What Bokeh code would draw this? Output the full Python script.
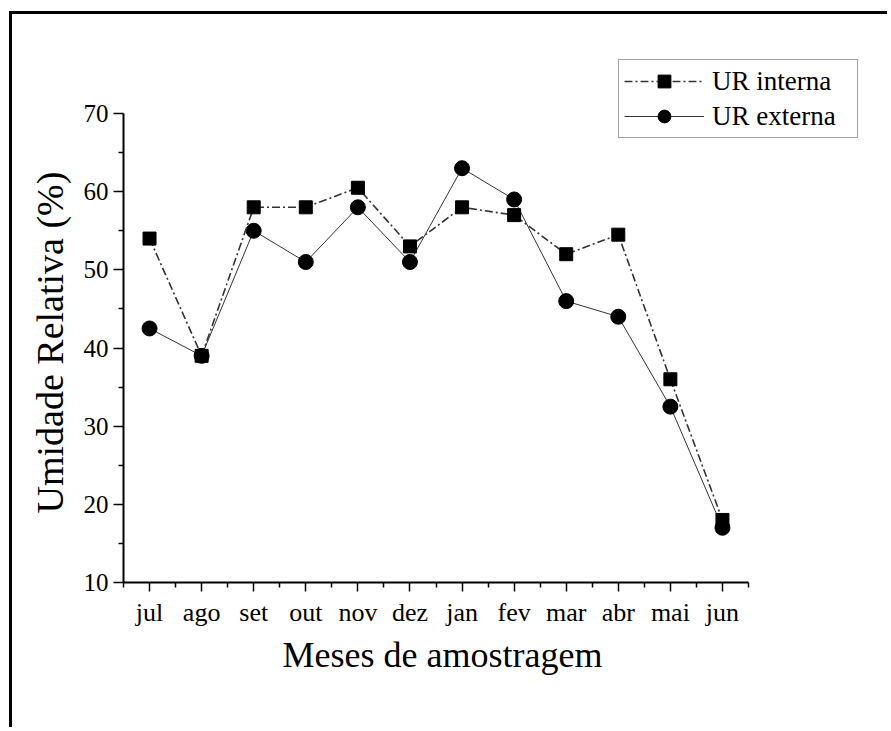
from bokeh.plotting import figure
from bokeh.models import FixedTicker, Legend, LegendItem, Title
from bokeh.embed import file_html
from bokeh.resources import INLINE

months = ["jul", "ago", "set", "out", "nov", "dez", "jan", "fev", "mar", "abr", "mai", "jun"]
ur_interna = [54, 39, 58, 58, 60.5, 53, 58, 57, 52, 54.5, 36, 18]
ur_externa = [42.5, 39, 55, 51, 58, 51, 63, 59, 46, 44, 32.5, 17]
y_ticks = [10, 20, 30, 40, 50, 60, 70]
x_title = "Meses de amostragem"
y_title = "Umidade Relativa (%)"

x = list(range(len(months)))
FONT = "Liberation Serif"

# geometry (pixels): axis box 625 x 469, frame enlarged to hold the legend
OX, OY = 12, 14
AX_W, AX_H = 625, 469
FR_W, FR_H = 747, 542
x_lo, x_hi = -0.5, len(months) - 0.5
y_lo, y_hi = y_ticks[0], y_ticks[-1]
x_end = x_lo + (x_hi - x_lo) * FR_W / AX_W
y_end = y_lo + (y_hi - y_lo) * FR_H / AX_H

p = figure(frame_width=FR_W, frame_height=FR_H, output_backend="svg", toolbar_location=None,
           x_range=(x_lo, x_end), y_range=(y_lo, y_end),
           min_border_left=123 - OX, min_border_top=40 - OY,
           min_border_right=17, min_border_bottom=145)
p.outline_line_color = None
p.grid.visible = False
p.background_fill_color = "white"
p.border_fill_color = "white"
p.styles = {"border-left": "3px solid black", "border-top": "3px solid black",
            "margin-left": "9px", "margin-top": "11px"}

# externa
l2 = p.line(x, ur_externa, line_color="#333333", line_width=1)
s2 = p.scatter(x, ur_externa, marker="circle", size=15, fill_color="black", line_color="black")
# interna
l1 = p.line(x, ur_interna, line_color="#333333", line_width=1.6, line_dash="8 3 2 3")
s1 = p.scatter(x, ur_interna, marker="square", size=13, fill_color="black", line_color="black")

# axes
p.xaxis.ticker = FixedTicker(ticks=x, minor_ticks=[i - 0.5 for i in range(len(months) + 1)])
p.xaxis.major_label_overrides = {i: m for i, m in enumerate(months)}
p.yaxis.ticker = FixedTicker(ticks=y_ticks, minor_ticks=[v + 5 for v in y_ticks[:-1]])
p.xaxis.bounds = (x_lo, x_hi)
p.yaxis.bounds = (y_lo, y_hi)

for ax in (p.xaxis, p.yaxis):
    ax.axis_line_width = 2
    ax.axis_line_color = "black"
    ax.major_tick_line_width = 1.5
    ax.minor_tick_line_width = 1.5
    ax.major_tick_line_color = "black"
    ax.minor_tick_line_color = "black"
    ax.major_tick_in = 0
    ax.minor_tick_in = 0
    ax.major_label_text_font = FONT
    ax.major_label_text_color = "black"

p.xaxis.major_label_text_font_size = "26px"
p.yaxis.major_label_text_font_size = "25px"
p.xaxis.major_tick_out = 9
p.xaxis.minor_tick_out = 5
p.yaxis.major_tick_out = 10
p.yaxis.minor_tick_out = 5
p.xaxis.major_label_standoff = 6
p.yaxis.major_label_standoff = 5

# axis titles (placed along the axis box, not the enlarged frame)
xt = Title(text=x_title, align="left", offset=159, vertical_align="top", standoff=10,
           text_font=FONT, text_font_size="36px", text_font_style="normal", text_color="black")
p.add_layout(xt, "below")
yt = Title(text=y_title, align="left", offset=69, vertical_align="bottom", standoff=20,
           text_font=FONT, text_font_size="38px", text_font_style="normal", text_color="black")
p.add_layout(yt, "left")

legend = Legend(items=[LegendItem(label="UR interna", renderers=[l1, s1]),
                       LegendItem(label="UR externa", renderers=[l2, s2])],
                location=(495, 444), orientation="vertical",
                glyph_width=80, glyph_height=32, label_height=32, label_width=140,
                spacing=3, padding=5, margin=0, label_standoff=8,
                label_text_font=FONT, label_text_font_size="27px", label_text_color="black",
                border_line_color="#444444", border_line_width=1,
                background_fill_color="white", background_fill_alpha=1)
p.add_layout(legend)

open("out.html", "w").write(file_html(p, INLINE))
